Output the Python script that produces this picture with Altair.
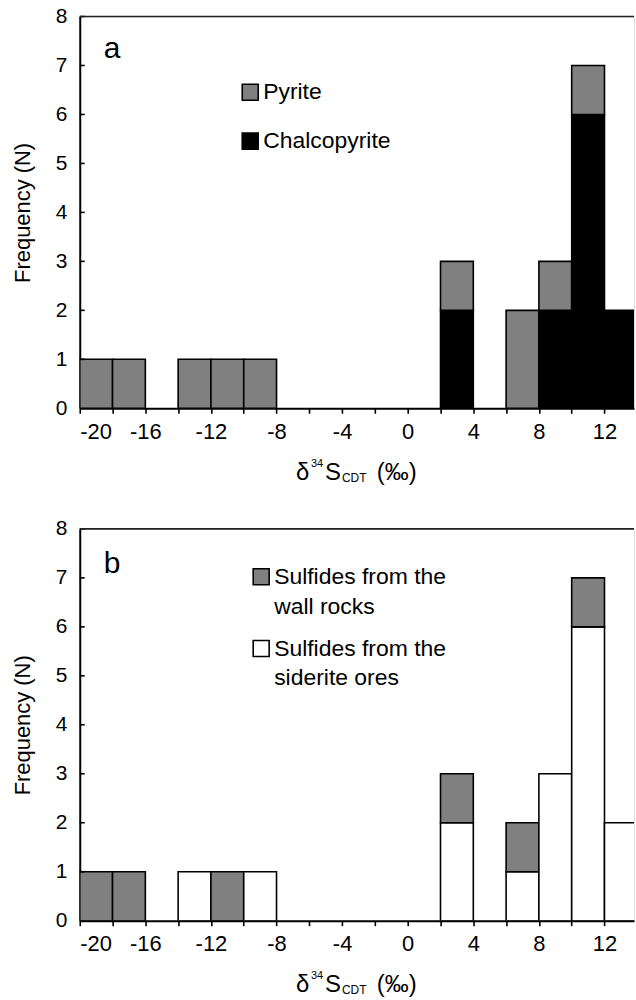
import altair as alt
import pandas as pd

FONT = "Liberation Sans"

# bin starts (width 2 per mil)
bin_starts = [-20, -18, -16, -14, -12, -10, -8, -6, -4, -2, 0, 2, 4, 6, 8, 10, 12]
BIN_W = 2

# panel a
pyrite_a = [1, 1, 0, 1, 1, 1, 0, 0, 0, 0, 0, 1, 0, 2, 1, 1, 0]
chalco_a = [0, 0, 0, 0, 0, 0, 0, 0, 0, 0, 0, 2, 0, 0, 2, 6, 2]
# panel b
wall_b = [1, 1, 0, 0, 1, 0, 0, 0, 0, 0, 0, 1, 0, 1, 0, 1, 0]
siderite_b = [0, 0, 0, 1, 0, 1, 0, 0, 0, 0, 0, 2, 0, 1, 3, 6, 2]

x_ticks = list(range(-20, 14, 2))
y_ticks = list(range(0, 9))

W, H = 556, 393
X_DOMAIN = [-20, 13.8]


def stacked(lower, upper, lower_name, upper_name):
    rows = []
    for s, lo, up in zip(bin_starts, lower, upper):
        if lo > 0:
            rows.append({"x0": s, "x1": s + BIN_W, "y0": 0, "y1": lo, "series": lower_name})
        if up > 0:
            rows.append({"x0": s, "x1": s + BIN_W, "y0": lo, "y1": lo + up, "series": upper_name})
    return pd.DataFrame(rows)


def panel(df, colors, letter, legend_items, title_dy):
    xscale = alt.Scale(domain=X_DOMAIN, nice=False, zero=False)
    yscale = alt.Scale(domain=[0, 8], nice=False)
    bars = alt.Chart(df).mark_rect(stroke="black", strokeWidth=1.6, clip=True).encode(
        x=alt.X("x0:Q", scale=xscale, axis=alt.Axis(
            values=x_ticks, labelExpr="datum.value % 4 === 0 ? '' + datum.value : ''",
            title=None, grid=False, tickSize=5, tickColor="black", tickWidth=1.6,
            domainColor="black", domainWidth=2, labelFontSize=22, labelPadding=8,
            labelColor="black", labelFont=FONT)),
        x2="x1:Q",
        y=alt.Y("y0:Q", scale=yscale, axis=alt.Axis(
            values=y_ticks, title="Frequency (N)", grid=False, ticks=False,
            domainColor="black", domainWidth=2, labelFontSize=21, labelPadding=13,
            labelColor="black", labelFont=FONT, titleFont=FONT, titleFontSize=22,
            titleFontWeight="normal", titleColor="black", titlePadding=21)),
        y2="y1:Q",
        color=alt.Color("series:N", scale=alt.Scale(domain=list(colors.keys()),
                                                    range=list(colors.values())), legend=None),
    )
    ytick_df = pd.DataFrame({"v": y_ticks[1:]})
    yticks = alt.Chart(ytick_df).mark_rule(color="black", strokeWidth=1.6).encode(
        y=alt.Y("v:Q", scale=yscale), x=alt.value(0), x2=alt.value(5))
    top = alt.Chart(pd.DataFrame({"v": [0]})).mark_rule(color="#222", strokeWidth=1.6).encode(
        x=alt.value(0), x2=alt.value(W), y=alt.value(0))
    label = alt.Chart(pd.DataFrame({"t": [letter]})).mark_text(
        font=FONT, fontSize=30, align="left", baseline="alphabetic", color="black").encode(
        text="t:N", x=alt.value(24), y=alt.value(42 if letter == "a" else 44))
    layers = [bars, yticks, top, label]
    for (name, col, lines, sx, sy) in legend_items:
        sq = alt.Chart(pd.DataFrame({"n": [name]})).mark_rect(
            fill=col, stroke="black", strokeWidth=1.6).encode(
            x=alt.value(sx), x2=alt.value(sx + 16), y=alt.value(sy - 8), y2=alt.value(sy + 8))
        layers.append(sq)
        for i, ln in enumerate(lines):
            tx = alt.Chart(pd.DataFrame({"t": [ln]})).mark_text(
                font=FONT, fontSize=23, align="left", baseline="middle", color="black").encode(
                text="t:N", x=alt.value(sx + 21), y=alt.value(sy + i * 30))
            layers.append(tx)
    # x axis title: delta 34 S CDT (permil)
    base = 465 + title_dy
    parts = [("δ", 24, 217, base), ("34", 11, 232, base - 13), ("S", 24, 246, base),
             ("CDT", 12, 263, base + 2), ("(‰)", 24, 298, base)]
    for (t, fs, px, py) in parts:
        layers.append(alt.Chart(pd.DataFrame({"t": [t]})).mark_text(
            font=FONT, fontSize=fs, align="left", baseline="alphabetic", color="black").encode(
            text="t:N", x=alt.value(px), y=alt.value(py)))
    return alt.layer(*layers).properties(width=W, height=H).resolve_scale(color="independent")


df_a = stacked(chalco_a, pyrite_a, "Chalcopyrite", "Pyrite")
df_b = stacked(siderite_b, wall_b, "Siderite ores", "Wall rocks")

pa = panel(df_a, {"Chalcopyrite": "#000000", "Pyrite": "#808080"}, "a",
           [("Pyrite", "#808080", ["Pyrite"], 163, 76),
            ("Chalcopyrite", "#000000", ["Chalcopyrite"], 163, 125)], 0)
pb = panel(df_b, {"Siderite ores": "#ffffff", "Wall rocks": "#808080"}, "b",
           [("Wall rocks", "#808080", ["Sulfides from the", "wall rocks"], 174, 48),
            ("Siderite ores", "#ffffff", ["Sulfides from the", "siderite ores"], 174, 120)], 0)

chart = alt.vconcat(pa, pb, spacing=31).properties(
    padding={"left": 10, "top": 3, "right": 0, "bottom": 0}
).configure_view(stroke=None).configure(background="white")

chart.save("out.html", embed_options={"renderer": "svg", "actions": False})
